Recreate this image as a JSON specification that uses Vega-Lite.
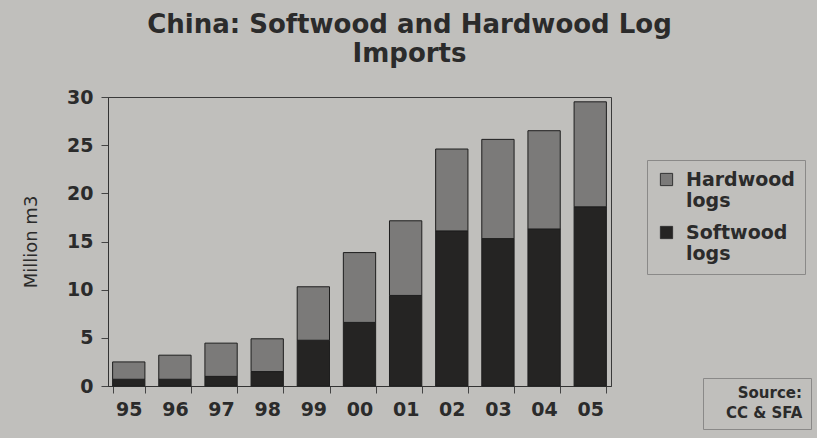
{
  "$schema": "https://vega.github.io/schema/vega-lite/v6.json",
  "width": 503,
  "height": 289,
  "autosize": {"type": "none"},
  "padding": {"left": 108, "top": 97, "right": 206, "bottom": 52},
  "background": "#c0bfbc",
  "title": {
    "text": ["China: Softwood and Hardwood Log", "Imports"],
    "font": "DejaVu Sans",
    "fontSize": 26,
    "fontWeight": "bold",
    "color": "#2b2b2b",
    "lineHeight": 29,
    "anchor": "middle",
    "dx": 50,
    "offset": 21
  },
  "data": {
    "values": [
      {"year": "95", "type": "Softwood logs", "value": 0.7, "source": "CC & SFA"},
      {"year": "95", "type": "Hardwood logs", "value": 1.8, "source": "CC & SFA"},
      {"year": "96", "type": "Softwood logs", "value": 0.7, "source": "CC & SFA"},
      {"year": "96", "type": "Hardwood logs", "value": 2.5, "source": "CC & SFA"},
      {"year": "97", "type": "Softwood logs", "value": 1.0, "source": "CC & SFA"},
      {"year": "97", "type": "Hardwood logs", "value": 3.45, "source": "CC & SFA"},
      {"year": "98", "type": "Softwood logs", "value": 1.5, "source": "CC & SFA"},
      {"year": "98", "type": "Hardwood logs", "value": 3.4, "source": "CC & SFA"},
      {"year": "99", "type": "Softwood logs", "value": 4.75, "source": "CC & SFA"},
      {"year": "99", "type": "Hardwood logs", "value": 5.55, "source": "CC & SFA"},
      {"year": "00", "type": "Softwood logs", "value": 6.6, "source": "CC & SFA"},
      {"year": "00", "type": "Hardwood logs", "value": 7.25, "source": "CC & SFA"},
      {"year": "01", "type": "Softwood logs", "value": 9.4, "source": "CC & SFA"},
      {"year": "01", "type": "Hardwood logs", "value": 7.75, "source": "CC & SFA"},
      {"year": "02", "type": "Softwood logs", "value": 16.1, "source": "CC & SFA"},
      {"year": "02", "type": "Hardwood logs", "value": 8.5, "source": "CC & SFA"},
      {"year": "03", "type": "Softwood logs", "value": 15.3, "source": "CC & SFA"},
      {"year": "03", "type": "Hardwood logs", "value": 10.3, "source": "CC & SFA"},
      {"year": "04", "type": "Softwood logs", "value": 16.3, "source": "CC & SFA"},
      {"year": "04", "type": "Hardwood logs", "value": 10.2, "source": "CC & SFA"},
      {"year": "05", "type": "Softwood logs", "value": 18.6, "source": "CC & SFA"},
      {"year": "05", "type": "Hardwood logs", "value": 10.9, "source": "CC & SFA"}
    ]
  },
  "mark": {"type": "bar", "stroke": "#1e1e1e", "strokeWidth": 1},
  "encoding": {
    "x": {
      "field": "year",
      "type": "nominal",
      "sort": null,
      "scale": {"paddingInner": 0.3, "paddingOuter": 0.1},
      "axis": {
        "title": null,
        "labelAngle": 0,
        "labelFont": "DejaVu Sans",
        "labelFontSize": 19,
        "labelFontWeight": "bold",
        "labelColor": "#2b2b2b",
        "labelPadding": 7,
        "tickBand": "extent",
        "tickSize": 7,
        "tickColor": "#444",
        "domainColor": "#333"
      }
    },
    "y": {
      "field": "value",
      "type": "quantitative",
      "stack": "zero",
      "scale": {"domain": [0, 30], "nice": false},
      "axis": {
        "title": "Million m3",
        "titleFont": "DejaVu Sans",
        "titleFontSize": 18,
        "titleFontWeight": "normal",
        "titleColor": "#2b2b2b",
        "titlePadding": 26,
        "values": [0, 5, 10, 15, 20, 25, 30],
        "grid": false,
        "labelFont": "DejaVu Sans",
        "labelFontSize": 19,
        "labelFontWeight": "bold",
        "labelColor": "#2b2b2b",
        "labelPadding": 8,
        "tickSize": 7,
        "tickColor": "#444",
        "domainColor": "#333"
      }
    },
    "color": {
      "field": "type",
      "type": "nominal",
      "scale": {
        "domain": ["Hardwood logs", "Softwood logs"],
        "range": ["#7b7a79", "#252423"]
      },
      "legend": {
        "title": null,
        "orient": "none",
        "legendX": 539,
        "legendY": 63,
        "labelExpr": "split(datum.label, ' ')",
        "labelFont": "DejaVu Sans",
        "labelFontSize": 19,
        "labelFontWeight": "bold",
        "labelColor": "#2b2b2b",
        "labelOffset": 10,
        "symbolType": "square",
        "symbolSize": 150,
        "symbolStrokeColor": "#333",
        "symbolStrokeWidth": 1,
        "rowPadding": 12,
        "padding": 10,
        "strokeColor": "#8a8988",
        "labelLimit": 200
      }
    },
    "opacity": {
      "field": "source",
      "type": "nominal",
      "scale": {"range": [1, 1]},
      "legend": {
        "title": "Source:",
        "orient": "none",
        "legendX": 595,
        "legendY": 281,
        "titleFont": "DejaVu Sans",
        "titleFontSize": 15,
        "titleFontWeight": "bold",
        "titleColor": "#2b2b2b",
        "titleAnchor": "end",
        "titlePadding": 4,
        "labelFont": "DejaVu Sans",
        "labelFontSize": 15,
        "labelFontWeight": "bold",
        "labelColor": "#2b2b2b",
        "labelOffset": 0,
        "symbolSize": 0,
        "symbolOpacity": 0,
        "symbolStrokeWidth": 0,
        "padding": 8,
        "strokeColor": "#8a8988"
      }
    },
    "order": {"field": "type", "sort": "descending"}
  },
  "config": {
    "view": {"stroke": "#3a3a3a", "strokeWidth": 1}
  }
}
